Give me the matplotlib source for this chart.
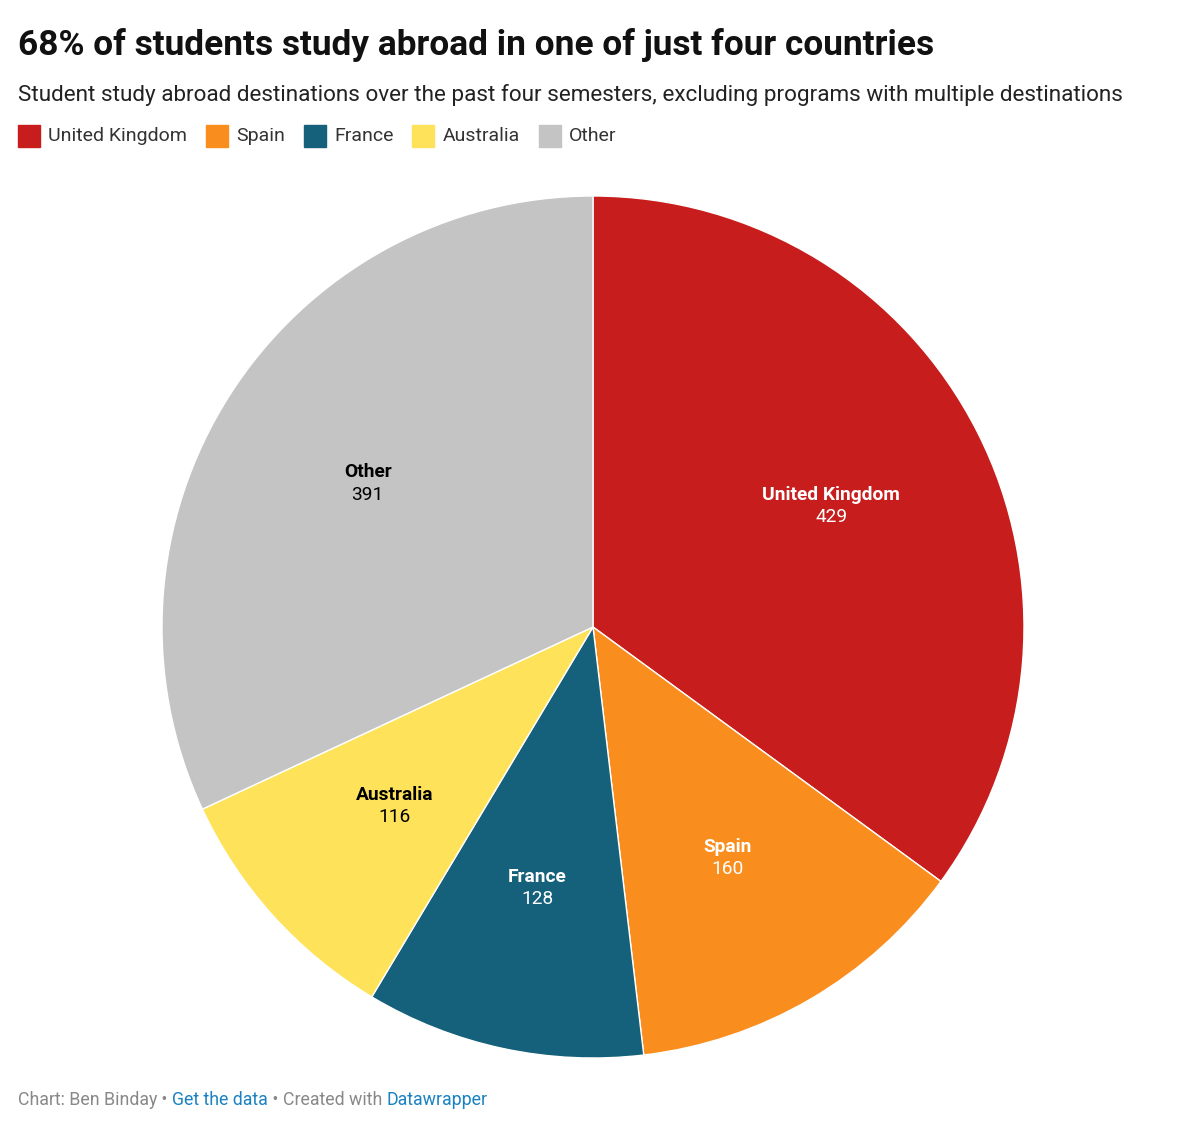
import numpy as np
import matplotlib.pyplot as plt

categories = ["United Kingdom", "Spain", "France", "Australia", "Other"]
values = [429, 160, 128, 116, 391]
colors = ["#c71e1d", "#f98e1e", "#15607a", "#fee35a", "#c4c4c4"]
label_colors = ["white", "white", "white", "black", "black"]

plt.rcParams['font.family'] = ['Roboto', 'DejaVu Sans']

W, H = 1200, 1134
fig = plt.figure(figsize=(W / 100, H / 100), dpi=100)
fig.patch.set_facecolor("white")

# pie axes placed in pixel terms
cx, cy, R = 593, 627, 431
ax = fig.add_axes([(cx - R) / W, (H - cy - R) / H, 2 * R / W, 2 * R / H])
wedges, _ = ax.pie(values, colors=colors, startangle=90, counterclock=False,
                   wedgeprops=dict(edgecolor="white", linewidth=1))
ax.set_xlim(-1, 1)
ax.set_ylim(-1, 1)
ax.set_aspect("equal")
ax.axis("off")

for w, name, val, tc in zip(wedges, categories, values, label_colors):
    mid = np.deg2rad((w.theta1 + w.theta2) / 2)
    x, y = 0.62 * np.cos(mid), 0.62 * np.sin(mid)
    ax.text(x, y + 0.005, name, ha="center", va="bottom", fontsize=13.8,
            fontweight="bold", color=tc)
    ax.text(x, y - 0.005, str(val), ha="center", va="top", fontsize=13.8,
            color=tc)

# title, subtitle
fig.text(18 / W, 1 - 45 / H, "68% of students study abroad in one of just four countries",
         fontsize=25.4, fontweight="bold", va="center", ha="left", color="#111111")
fig.text(18 / W, 1 - 95 / H,
         "Student study abroad destinations over the past four semesters, excluding programs with multiple destinations",
         fontsize=16.2, va="center", ha="left", color="#222222")

# legend
lx = 18
for name, c in zip(categories, colors):
    fig.patches.append(plt.Rectangle((lx / W, 1 - 147 / H), 22 / W, 22 / H,
                                     transform=fig.transFigure, color=c))
    t = fig.text((lx + 30) / W, 1 - 136 / H, name, fontsize=14, va="center",
                 ha="left", color="#333333")
    fig.canvas.draw()
    bb = t.get_window_extent()
    lx = bb.x1 + 19

# footer
parts = [("Chart: Ben Binday", "#888888"), (" \u2022 ", "#888888"),
         ("Get the data", "#1a81c2"), (" \u2022 ", "#888888"),
         ("Created with ", "#888888"), ("Datawrapper", "#1a81c2")]
fx = 18
for s, c in parts:
    t = fig.text(fx / W, 1 - 1100 / H, s, fontsize=12.8, va="center", ha="left", color=c)
    fig.canvas.draw()
    fx = t.get_window_extent().x1

fig.savefig("out.png", dpi=100, facecolor="white")
